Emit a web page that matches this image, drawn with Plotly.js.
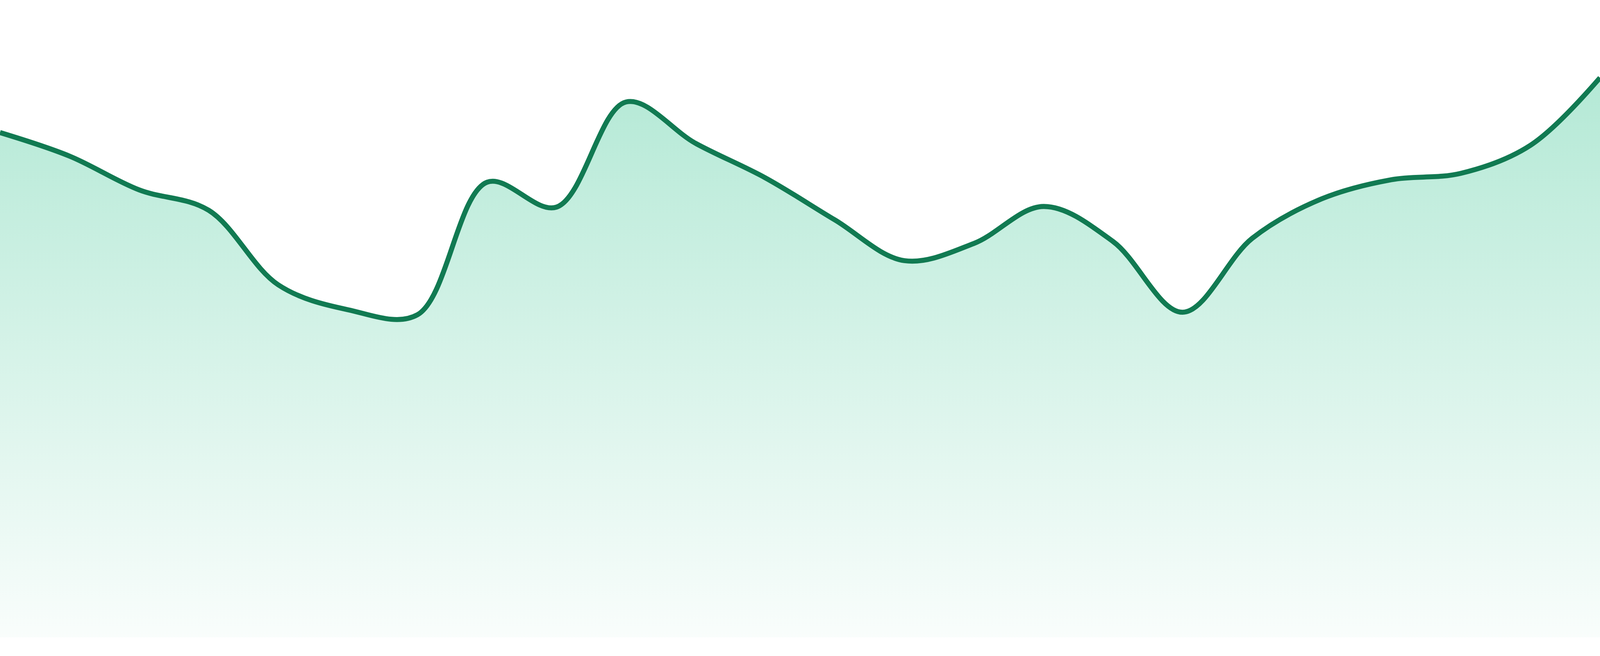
<!DOCTYPE html>
<html>
<head>
<meta charset="utf-8">
<script src="https://cdn.plot.ly/plotly-3.0.1.min.js"></script>
<style>
  html, body { margin: 0; padding: 0; background: #ffffff; overflow: hidden; }
  #chart { width: 100vw; height: 100vh; }
</style>
</head>
<body>
<div id="chart"></div>
<script>
// one point per day, x axis is hidden in the original
const days = [1, 2, 3, 4, 5, 6, 7, 8, 9, 10, 11, 12,
              13, 14, 15, 16, 17, 18, 19, 20, 21, 22, 23, 24];

// values (axis runs 0 - 100)
const visits = [79.2, 75.5, 70.2, 67.0, 55.3, 51.4, 50.6, 71.4,
                67.5, 84.0, 77.5, 72.1, 65.5, 59.1, 61.8, 67.6,
                62.1, 51.0, 62.6, 68.8, 71.8, 72.8, 77.2, 87.8];

const lineColor = '#117a52';

// the picture was 4800 x 1680, scale sizes to whatever the window is
const W = window.innerWidth;
const H = window.innerHeight;
const k = W / 4800;

let trace = {
  x: days,
  y: visits,
  type: 'scatter',
  mode: 'lines',
  line: { color: lineColor, width: 15 * k, shape: 'spline', smoothing: 1 },
  fill: 'tozeroy',
  fillgradient: {
    type: 'vertical',
    start: 0,
    stop: 88,
    colorscale: [
      [0, 'rgba(52,195,143,0.03)'],
      [1, 'rgba(52,195,143,0.37)']
    ]
  },
  hoverinfo: 'skip'
};

let layout = {
  width: W,
  height: H,
  margin: { l: 0, r: 0, t: 0, b: Math.round(H * 48 / 1680), pad: 0 },
  paper_bgcolor: '#ffffff',
  plot_bgcolor: '#ffffff',
  showlegend: false,
  xaxis: { range: [1, 24], visible: false, fixedrange: true },
  yaxis: { range: [0, 100], visible: false, fixedrange: true }
};

Plotly.newPlot('chart', [trace], layout, { displayModeBar: false, staticPlot: true });
</script>
</body>
</html>
